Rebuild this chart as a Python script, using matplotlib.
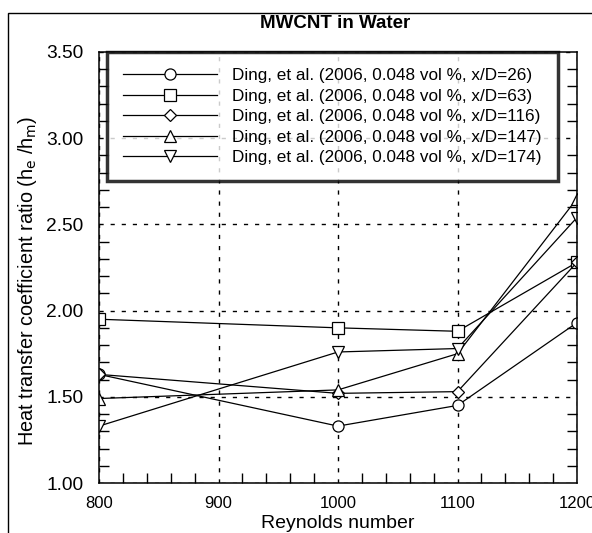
import matplotlib
matplotlib.use("Agg")
import matplotlib.pyplot as plt
from matplotlib.patches import Rectangle
from matplotlib.ticker import MultipleLocator, FormatStrFormatter

plt.rcParams["font.family"] = ["Liberation Sans", "DejaVu Sans"]

# Reynolds numbers and h_e/h_m ratios
reynolds = [800, 1000, 1100, 1200]
ratio_xd26 = [1.63, 1.33, 1.45, 1.93]
ratio_xd63 = [1.95, 1.90, 1.88, 2.28]
ratio_xd116 = [1.63, 1.52, 1.53, 2.28]
ratio_xd147 = [1.49, 1.54, 1.75, 2.65]
ratio_xd174 = [1.33, 1.76, 1.78, 2.54]

labels = [
    "Ding, et al. (2006, 0.048 vol %, x/D=26)",
    "Ding, et al. (2006, 0.048 vol %, x/D=63)",
    "Ding, et al. (2006, 0.048 vol %, x/D=116)",
    "Ding, et al. (2006, 0.048 vol %, x/D=147)",
    "Ding, et al. (2006, 0.048 vol %, x/D=174)",
]
series = [ratio_xd26, ratio_xd63, ratio_xd116, ratio_xd147, ratio_xd174]
markers = ["o", "s", "D", "^", "v"]
msizes = [8, 8, 6, 8, 8]

fig = plt.figure(figsize=(5.92, 5.33), dpi=100)
ax = fig.add_axes([99 / 592, 1 - 483 / 533, (577 - 99) / 592, (483 - 52) / 533])

for y, m, ms, lab in zip(series, markers, msizes, labels):
    ax.plot(reynolds, y, color="black", lw=0.9, marker=m, ms=ms,
            mfc="white", mec="black", mew=0.9, label=lab)

ax.set_xlim(800, 1200)
ax.set_ylim(1.0, 3.5)
ax.xaxis.set_major_locator(MultipleLocator(100))
ax.xaxis.set_minor_locator(MultipleLocator(20))
ax.yaxis.set_major_locator(MultipleLocator(0.5))
ax.yaxis.set_minor_locator(MultipleLocator(0.1))
ax.yaxis.set_major_formatter(FormatStrFormatter("%.2f"))
ax.tick_params(which="both", direction="in", right=True)
ax.tick_params(which="major", length=0)
ax.tick_params(axis="x", which="major", labelsize=12, pad=9)
ax.tick_params(axis="y", which="major", labelsize=13.8, pad=11)
ax.tick_params(which="minor", length=7, width=1)
ax.grid(True, which="major", color="black", ls=(0, (3, 5)), lw=1)
for s in ax.spines.values():
    s.set_linewidth(1.1)

ax.set_xlabel("Reynolds number", fontsize=14, labelpad=3)
ax.set_ylabel(r"Heat transfer coefficient ratio (h$_\mathrm{e}$ /h$_\mathrm{m}$)",
              fontsize=14.3)
ax.yaxis.set_label_coords(-0.126, 0.47)

fig.text(335 / 592, 1 - 24 / 533, "MWCNT in Water", ha="center", va="center",
         fontsize=13.5, fontweight="bold")

leg = ax.legend(loc="upper left", bbox_to_anchor=(0.016, 1.0), fontsize=12.3,
                handlelength=5.5, frameon=True, fancybox=False,
                borderpad=0.95, labelspacing=0.32, handletextpad=0.9,
                borderaxespad=0)
leg.get_frame().set_edgecolor("black")
leg.get_frame().set_linewidth(2.5)

# outer border of the original scan
fig.patches.append(Rectangle((8 / 592, -0.05), 1.1, 1 - 13 / 533 + 0.05,
                             transform=fig.transFigure, fill=False,
                             ec="black", lw=1))

fig.savefig("out.png", dpi=100)
